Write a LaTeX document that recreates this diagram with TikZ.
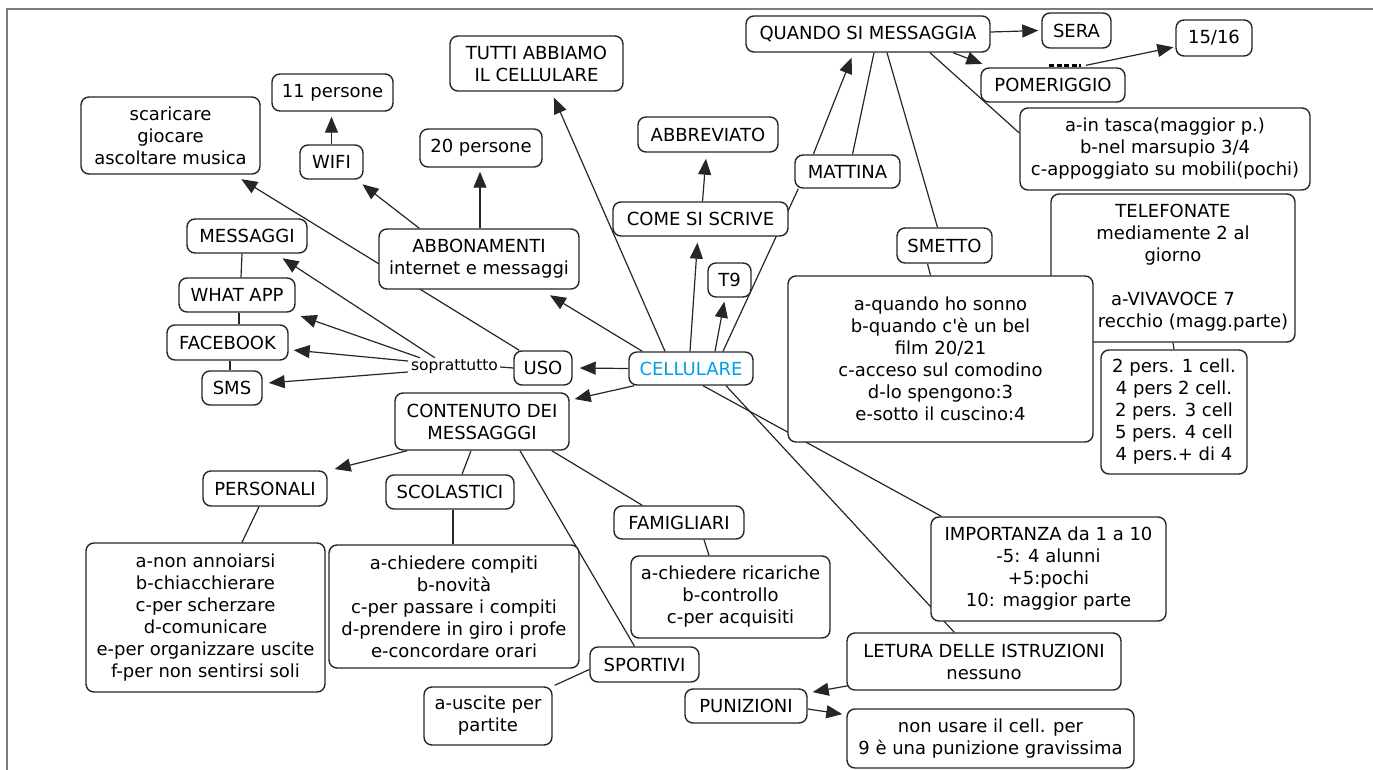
\documentclass[tikz,border=0pt]{standalone}
\usepackage{fontspec}
\setmainfont{DejaVu Sans}
\usetikzlibrary{arrows.meta,calc}
\pgfdeclarelayer{background}
\pgfsetlayers{background,main}
\definecolor{cellblue}{RGB}{0,160,228}
\definecolor{framegray}{RGB}{125,125,125}
\begin{document}
\begin{tikzpicture}[x=1pt,y=-1pt,
  cbox/.style={draw=black!85, line width=1.4pt, rounded corners=8pt, fill=white, align=center,
    font=\fontsize{18}{22}\selectfont, inner sep=2pt},
  link/.style={line width=1.2pt, draw=black!85},
  arr/.style={link, -{Triangle[length=16pt,width=13pt]}, shorten >=1pt},
]
\useasboundingbox (0,0) rectangle (1373,770);
\draw[framegray, line width=2pt] (7,770) -- (7,9) -- (1373,9);

% nodes
\node[cbox, minimum width=244pt, minimum height=36pt] (quando) at (868,34) {QUANDO SI MESSAGGIA};
\node[cbox, minimum width=69pt, minimum height=35pt] (sera) at (1076.5,30.5) {SERA};
\node[cbox, minimum width=76pt, minimum height=36pt] (q1516) at (1214,38) {15/16};
\node[cbox, minimum width=144pt, minimum height=34pt] (pomeriggio) at (1053,85) {POMERIGGIO};
\node[cbox, minimum width=290pt, minimum height=82pt] (tasca) at (1165,149) {a-in tasca(maggior p.)\\b-nel marsupio 3/4\\c-appoggiato su mobili(pochi)};
\node[cbox, minimum width=173pt, minimum height=55pt] (tutti) at (536.5,63.5) {TUTTI ABBIAMO\\IL CELLULARE};
\node[cbox, minimum width=121pt, minimum height=37pt] (undici) at (332.5,92.5) {11 persone};
\node[cbox, minimum width=179pt, minimum height=77pt] (scaricare) at (170.5,135.5) {scaricare\\giocare\\ascoltare musica};
\node[cbox, minimum width=122pt, minimum height=38pt] (venti) at (481,148) {20 persone};
\node[cbox, minimum width=140pt, minimum height=35pt] (abbreviato) at (708,134.5) {ABBREVIATO};
\node[cbox, minimum width=63pt, minimum height=34pt] (wifi) at (331.5,162) {WIFI};
\node[cbox, minimum width=105pt, minimum height=33pt] (mattina) at (847.5,171.5) {MATTINA};
\node[cbox, minimum width=175pt, minimum height=34pt] (come) at (700.5,219) {COME SI SCRIVE};
\node[cbox, minimum width=120pt, minimum height=34pt] (messaggi) at (247,236) {MESSAGGI};
\node[cbox, minimum width=200pt, minimum height=60pt] (abbonamenti) at (479,259) {ABBONAMENTI\\internet e messaggi};
\node[cbox, minimum width=95pt, minimum height=35pt] (smetto) at (944.5,245.5) {SMETTO};
\node[cbox, minimum width=244pt, minimum height=148pt] (telefonate) at (1173,268) {TELEFONATE\\mediamente 2 al\\giorno\\\mbox{}\\a-VIVAVOCE 7\\\hspace*{40pt}recchio (magg.parte)};
\node[cbox, minimum width=43pt, minimum height=34pt] (t9) at (729.5,280) {T9};
\node[cbox, minimum width=116pt, minimum height=34pt] (whatapp) at (237,295) {WHAT APP};
\node[cbox, minimum width=305pt, minimum height=166pt] (smettobox) at (940.5,359) {a-quando ho sonno\\b-quando c\textquotesingle è un bel\\film 20/21\\c-acceso sul comodino\\d-lo spengono:3\\e-sotto il cuscino:4};
\node[cbox, minimum width=121pt, minimum height=35pt] (facebook) at (227.5,342.5) {FACEBOOK};
\node[inner sep=0pt, font=\fontsize{15.5}{18}\selectfont] (sop) at (454.5,367) {soprattutto};
\node[cbox, minimum width=58pt, minimum height=34pt] (uso) at (543,368) {USO};
\node[cbox, minimum width=124pt, minimum height=33pt, text=cellblue] (cellulare) at (691,368.5) {CELLULARE};
\node[cbox, minimum width=60pt, minimum height=34pt] (sms) at (232,388) {SMS};
\node[cbox, minimum width=146pt, minimum height=124pt] (duepers) at (1174,412) {2 pers. 1 cell.\\4 pers 2 cell.\\2 pers. 3 cell\\5 pers. 4 cell\\4 pers.+ di 4};
\node[cbox, minimum width=174pt, minimum height=57pt] (contenuto) at (482,421.5) {CONTENUTO DEI\\MESSAGGGI};
\node[cbox, minimum width=124pt, minimum height=35pt] (personali) at (265,488.5) {PERSONALI};
\node[cbox, minimum width=128pt, minimum height=34pt] (scolastici) at (450,492) {SCOLASTICI};
\node[cbox, minimum width=130pt, minimum height=33pt] (famigliari) at (679,522.5) {FAMIGLIARI};
\node[cbox, minimum width=235pt, minimum height=104pt] (importanza) at (1048.5,569) {IMPORTANZA da 1 a 10\\-5: 4 alunni\\+5:pochi\\10: maggior parte};
\node[cbox, minimum width=239pt, minimum height=149pt] (personalilist) at (205.5,617.5) {a-non annoiarsi\\b-chiacchierare\\c-per scherzare\\d-comunicare\\e-per organizzare uscite\\f-per non sentirsi soli};
\node[cbox, minimum width=250pt, minimum height=123pt] (scolasticilist) at (454,606.5) {a-chiedere compiti\\b-novità\\c-per passare i compiti\\d-prendere in giro i profe\\e-concordare orari};
\node[cbox, minimum width=199pt, minimum height=82pt] (famlist) at (730.5,597) {a-chiedere ricariche\\b-controllo\\c-per acquisiti};
\node[cbox, minimum width=274pt, minimum height=57pt] (letura) at (984,661.5) {LETURA DELLE ISTRUZIONI\\nessuno};
\node[cbox, minimum width=109pt, minimum height=35pt] (sportivi) at (644.5,664.5) {SPORTIVI};
\node[cbox, minimum width=128pt, minimum height=58pt] (uscite) at (488,716) {a-uscite per\\partite};
\node[cbox, minimum width=122pt, minimum height=34pt] (punizioni) at (746,706) {PUNIZIONI};
\node[cbox, minimum width=287pt, minimum height=59pt] (nonusare) at (990.5,738.5) {non usare il cell. per\\9 è una punizione gravissima};

% connectors
\begin{pgfonlayer}{background}
\draw[arr] ($(cellulare.north)+(-26,0)$) -- ($(tutti.south)+(17,5)$);
\draw[arr] ($(cellulare.north)+(-1,0)$) -- ($(come.south)+(-3,5)$);
\draw[arr] ($(come.north)+(2,0)$) -- ($(abbreviato.south)+(-2,5)$);
\draw[arr] ($(cellulare.north)+(24,0)$) -- ($(t9.south)+(-5,3)$);
\draw[link] ($(cellulare.north)+(32,0)$) -- ($(mattina.south west)+(4,0)$);
\draw[arr] ($(mattina.north west)+(19,0)$) -- ($(quando.south)+(-16,4)$);
\draw[link] ($(mattina.north)+(5,0)$) -- ($(quando.south)+(6,0)$);
\draw[link] ($(quando.south)+(19,0)$) -- ($(smetto.north)+(-7,0)$);
\draw[link] ($(quando.south)+(62,0)$) -- ($(tasca.west)+(0,-16)$);
\draw[arr] ($(quando.south)+(85,0)$) -- ($(pomeriggio.north west)+(3,-3)$);
\draw[arr] ($(quando.east)+(0,-2)$) -- ($(sera.west)+(-2,0)$);
\draw[arr] ($(pomeriggio.north)+(33,-2)$) -- ($(q1516.west)+(-1,9)$);
\draw[line width=3pt, dash pattern=on 5pt off 2.5pt] ($(pomeriggio.north)+(-4,-2)$) -- ($(pomeriggio.north)+(28,-2)$);
\draw[link] ($(smetto.south)+(-17,0)$) -- ($(smettobox.north)+(-10,0)$);
\draw[link] (telefonate.south) -- (duepers.north);
\draw[arr] ($(cellulare.north west)+(14,0)$) -- ($(abbonamenti.south)+(70,5)$);
\draw[arr] (cellulare.west) -- ($(uso.east)+(6,0)$);
\draw[arr] ($(cellulare.south west)+(6,0)$) -- ($(contenuto.north east)+(4,7)$);
\draw[link] ($(cellulare.south)+(12,0)$) -- ($(importanza.north west)+(11,0)$);
\draw[link] ($(cellulare.south)+(35,0)$) -- ($(letura.north west)+(108,0)$);
\draw[arr] ($(letura.south west)+(2,-5)$) -- ($(punizioni.north east)+(4,4)$);
\draw[arr] ($(punizioni.east)+(0,3)$) -- ($(nonusare.north west)+(-3,6)$);
\draw[arr] ($(uso.north west)+(6,0)$) -- ($(scaricare.south)+(70,4)$);
\draw[arr] ($(abbonamenti.north west)+(41,0)$) -- ($(wifi.south east)+(-2,4)$);
\draw[arr] ($(abbonamenti.north)+(1,0)$) -- ($(venti.south)+(-1,3)$);
\draw[arr] (wifi.north) -- ($(undici.south)+(-1,4)$);
\draw[link] ($(messaggi.south)+(-5,0)$) -- ($(whatapp.north)+(4,0)$);
\draw[link] ($(whatapp.south)+(2,0)$) -- ($(facebook.north)+(11.5,0)$);
\draw[link] ($(facebook.south)+(2.5,0)$) -- ($(sms.north)+(-2,0)$);
\draw[link] ($(sop.east)+(2,0)$) -- (uso.west);
\draw[arr] ($(sop.north west)+(24,-2)$) -- ($(messaggi.south east)+(-26,4)$);
\draw[arr] ($(sop.north west)+(9,-2)$) -- ($(whatapp.south east)+(4,3)$);
\draw[arr] ($(sop.west)+(-3,-6)$) -- ($(facebook.east)+(4,7.5)$);
\draw[arr] ($(sop.west)+(-3,5)$) -- ($(sms.east)+(5,-5)$);
\draw[arr] ($(contenuto.south west)+(13,0)$) -- ($(personali.north east)+(6,-1)$);
\draw[link] ($(contenuto.south)+(-11,0)$) -- ($(scolastici.north)+(12,0)$);
\draw[link] ($(contenuto.south)+(38,0)$) -- ($(sportivi.north)+(-10,0)$);
\draw[link] ($(contenuto.south east)+(-18,0)$) -- ($(famigliari.north west)+(29,0)$);
\draw[link] ($(personali.south)+(-6,0)$) -- ($(personalilist.north)+(36.5,0)$);
\draw[link] ($(scolastici.south)+(3,0)$) -- ($(scolasticilist.north)+(-1,0)$);
\draw[link] ($(famigliari.south)+(25,0)$) -- ($(famlist.north)+(-21.5,0)$);
\draw[link] ($(sportivi.west)+(0,5)$) -- ($(uscite.north east)+(2,-1)$);
\end{pgfonlayer}
\end{tikzpicture}
\end{document}
